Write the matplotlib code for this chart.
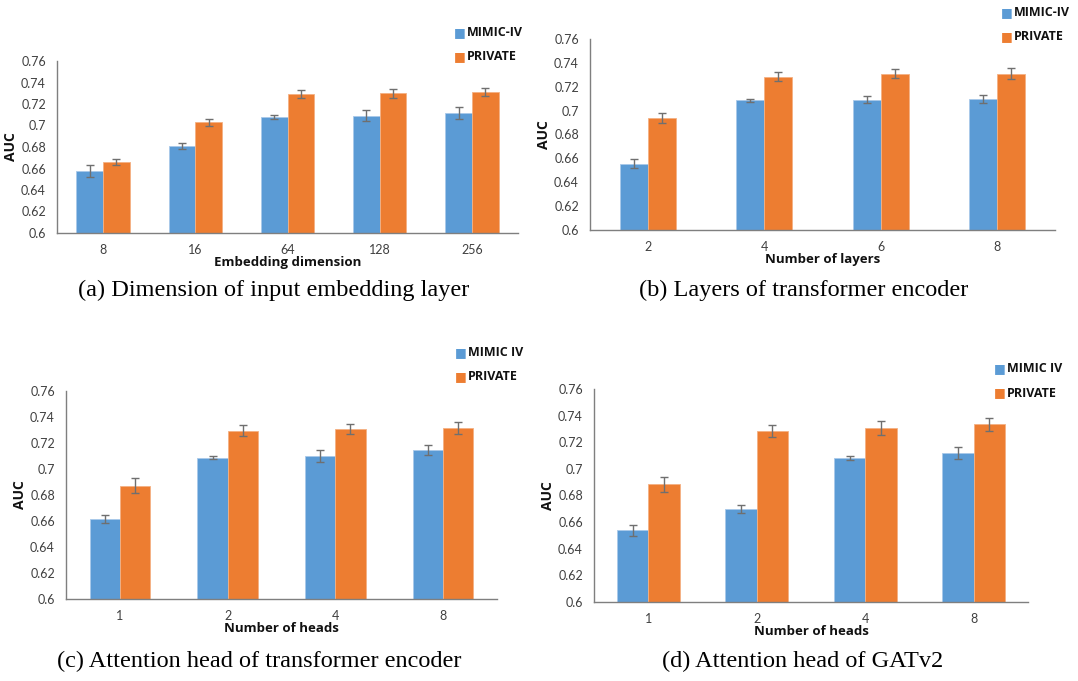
import matplotlib
matplotlib.use('Agg')
import matplotlib.pyplot as plt
import numpy as np

W, H = 1078, 681

# (a) embedding dimension
dim_labels = ['8', '16', '64', '128', '256']
dim_mimic = [0.658, 0.681, 0.708, 0.709, 0.712]
dim_mimic_err = [0.0057, 0.003, 0.002, 0.005, 0.0056]
dim_private = [0.666, 0.703, 0.729, 0.730, 0.731]
dim_private_err = [0.003, 0.003, 0.0037, 0.004, 0.0037]

# (b) number of layers
layer_labels = ['2', '4', '6', '8']
layer_mimic = [0.6555, 0.7085, 0.709, 0.710]
layer_mimic_err = [0.0036, 0.0015, 0.003, 0.0034]
layer_private = [0.694, 0.7285, 0.731, 0.731]
layer_private_err = [0.0042, 0.004, 0.004, 0.0045]

# (c) heads of transformer encoder
head_labels = ['1', '2', '4', '8']
tf_mimic = [0.6615, 0.7088, 0.7098, 0.7147]
tf_mimic_err = [0.0033, 0.001, 0.0045, 0.0038]
tf_private = [0.6873, 0.7293, 0.7306, 0.7313]
tf_private_err = [0.0058, 0.0042, 0.0038, 0.0046]

# (d) heads of GATv2
gat_mimic = [0.6538, 0.6698, 0.708, 0.7118]
gat_mimic_err = [0.0039, 0.0033, 0.0016, 0.0045]
gat_private = [0.6884, 0.7286, 0.7306, 0.7336]
gat_private_err = [0.0054, 0.0045, 0.0053, 0.0048]

BLUE = '#5B9BD5'
ORANGE = '#ED7D31'

plt.rcParams['font.family'] = ['Lato', 'DejaVu Sans']
BOLD = ['Open Sans', 'DejaVu Sans']

fig = plt.figure(figsize=(W / 100, H / 100), dpi=100)
fig.patch.set_facecolor('white')


def px_axes(left, top, right, bottom):
    return fig.add_axes([left / W, 1 - bottom / H, (right - left) / W, (bottom - top) / H])


def panel(box, labels, m, me, p, pe, xlabel, names, legend_xy, bw, caption, cap_xy):
    ax = px_axes(*box)
    x = np.arange(len(labels))
    ekw = dict(ecolor='#6f6f6f', elinewidth=1, capsize=3, capthick=1)
    ax.bar(x - bw / 2, m, bw, yerr=me, color=BLUE, edgecolor='#a9c9ea',
           linewidth=0.6, error_kw=ekw, zorder=2)
    ax.bar(x + bw / 2, p, bw, yerr=pe, color=ORANGE, edgecolor='#f4b183',
           linewidth=0.6, error_kw=ekw, zorder=2)
    ax.set_ylim(0.6, 0.76)
    ax.set_xlim(-0.5, len(labels) - 0.5)
    ticks = np.arange(0.6, 0.7601, 0.02)
    ax.set_yticks(ticks)
    ax.set_yticklabels(['0.6', '0.62', '0.64', '0.66', '0.68', '0.7', '0.72', '0.74', '0.76'])
    ax.set_xticks(x)
    ax.set_xticklabels(labels)
    ax.tick_params(axis='both', length=0, labelsize=9, colors='#404040')
    ax.tick_params(axis='y', pad=8)
    ax.tick_params(axis='x', pad=8)
    for s in ['top', 'right']:
        ax.spines[s].set_visible(False)
    for s in ['left', 'bottom']:
        ax.spines[s].set_color('#7f7f7f')
        ax.spines[s].set_linewidth(1)
    ax.set_xlabel(xlabel, fontsize=9.5, fontweight='bold', labelpad=0, color='#111111',
                  family=BOLD)
    ax.set_ylabel('AUC', fontsize=10, fontweight='bold', color='#111111', labelpad=2,
                  family=BOLD)
    # legend, placed like the Excel chart (outside above top right)
    lx, ly = legend_xy
    for i, (name, col) in enumerate(zip(names, [BLUE, ORANGE])):
        yy = ly + i * 24
        fig.text(lx / W, 1 - yy / H, '\u25A0', color=col, fontsize=9,
                 va='center', ha='left', family='DejaVu Sans')
        fig.text((lx + 13) / W, 1 - yy / H, name, color='#111111', fontsize=9,
                 fontweight='bold', va='center', ha='left', family=BOLD)
    fig.text(cap_xy[0] / W, 1 - cap_xy[1] / H, caption, fontsize=17.5,
             family='Liberation Serif', ha='center', va='center')
    return ax


panel((57, 61, 518, 233), dim_labels, dim_mimic, dim_mimic_err, dim_private, dim_private_err,
      'Embedding dimension', ['MIMIC-IV', 'PRIVATE'], (454, 33), 0.29,
      '(a) Dimension of input embedding layer', (274, 290))
panel((590, 39, 1055, 230), layer_labels, layer_mimic, layer_mimic_err, layer_private,
      layer_private_err, 'Number of layers', ['MIMIC-IV', 'PRIVATE'], (1001, 13), 0.24,
      '(b) Layers of transformer encoder', (804, 290))
panel((66, 391, 497, 599), head_labels, tf_mimic, tf_mimic_err, tf_private, tf_private_err,
      'Number of heads', ['MIMIC IV', 'PRIVATE'], (455, 353), 0.28,
      '(c) Attention head of transformer encoder', (259, 661))
panel((594, 389, 1028, 602), head_labels, gat_mimic, gat_mimic_err, gat_private,
      gat_private_err, 'Number of heads', ['MIMIC IV', 'PRIVATE'], (994, 369), 0.29,
      '(d) Attention head of GATv2', (803, 661))

fig.savefig('out.png', dpi=100, facecolor='white')
